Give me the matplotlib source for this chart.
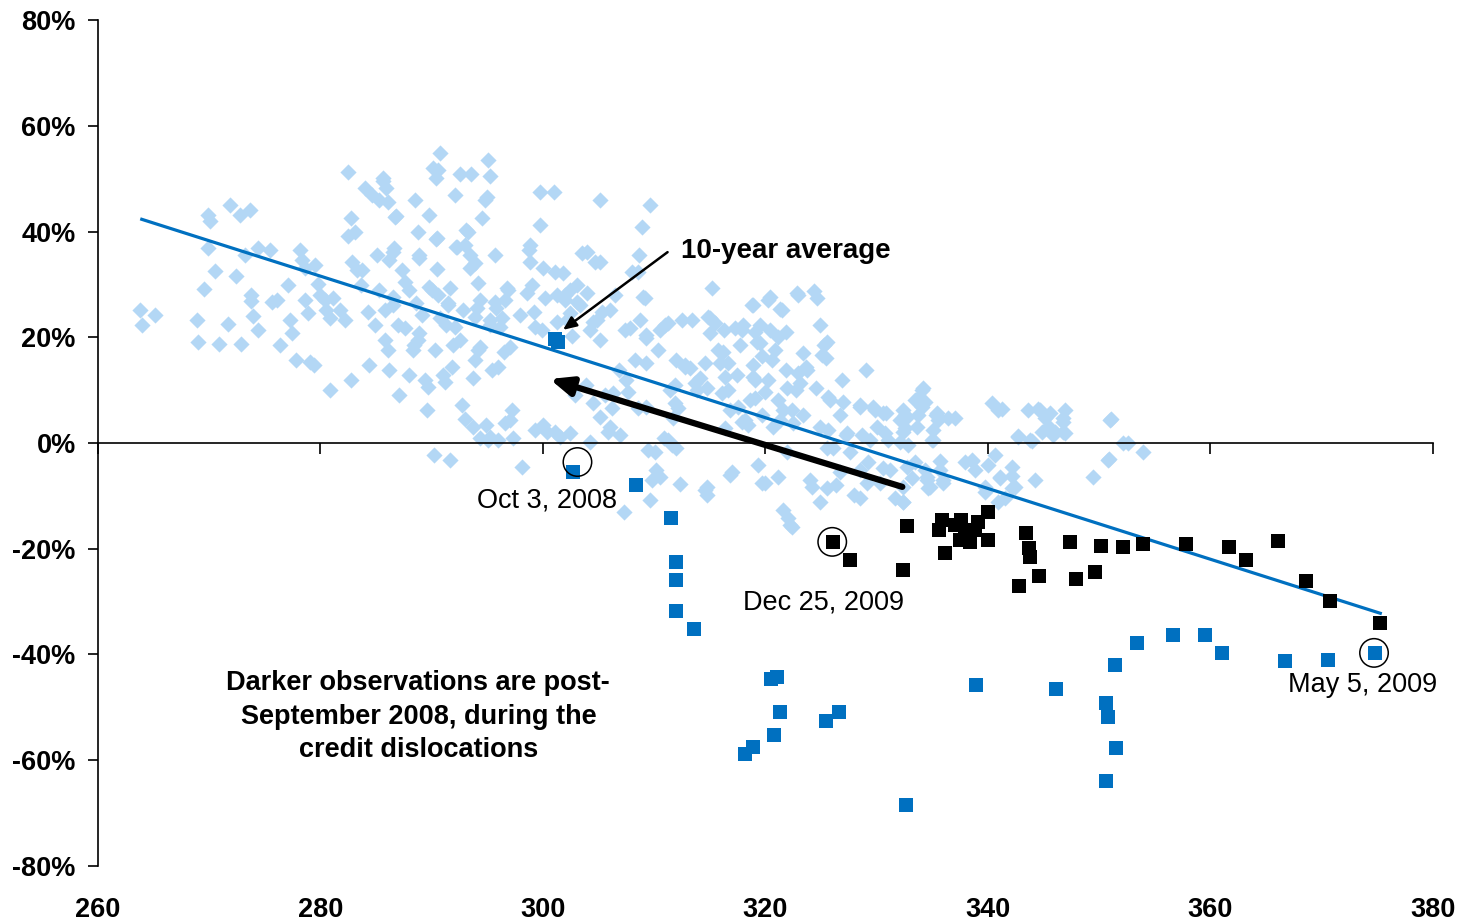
import matplotlib
matplotlib.use("Agg")
import matplotlib.pyplot as plt

plt.rcParams['font.family'] = ['Liberation Sans', 'DejaVu Sans']

# Pre-crisis weekly observations (x: level, y: % change)
light_x = [263.8, 264.0, 265.1, 268.9, 269.0, 269.5, 269.9, 270.1, 269.9, 270.5, 270.9, 271.7, 271.9, 272.8,
           272.4, 272.9, 273.7, 273.2, 273.8, 273.8, 273.9, 274.4, 274.4, 275.5, 275.6, 276.1, 276.4, 277.1,
           277.3, 277.4, 277.8, 278.2, 278.3, 278.6, 278.6, 278.9, 279.1, 279.4, 279.5, 279.8, 280.0, 280.4,
           280.5, 280.9, 280.9, 281.1, 281.8, 282.2, 282.5, 282.7, 282.5, 282.8, 283.1, 282.7, 283.3, 283.6,
           283.7, 284.0, 284.3, 284.4, 284.6, 284.9, 285.1, 285.3, 285.3, 285.6, 285.6, 285.9, 286.1, 285.8,
           285.8, 286.1, 286.2, 286.5, 286.6, 286.8, 287.0, 287.1, 287.3, 287.6, 287.6, 288.0, 288.0, 288.4,
           288.6, 288.8, 288.5, 288.9, 289.1, 289.4, 289.6, 289.8, 290.1, 290.4, 290.7, 290.0, 290.3, 290.4,
           290.5, 290.7, 291.2, 291.3, 291.5, 290.2, 291.6, 291.9, 292.1, 292.2, 292.5, 292.5, 293.0, 292.7,
           293.0, 293.1, 293.4, 293.5, 293.9, 294.2, 294.2, 294.3, 294.5, 294.8, 295.1, 295.2, 294.9, 295.1,
           295.2, 295.4, 295.7, 295.8, 296.0, 296.3, 296.5, 296.6, 296.9, 297.0, 297.2, 297.3, 297.9, 298.1,
           298.7, 298.8, 299.0, 299.2, 299.3, 299.7, 299.7, 299.9, 300.2, 300.4, 301.0, 301.1, 301.3, 301.3,
           301.5, 302.0, 302.2, 302.4, 302.6, 302.9, 303.1, 303.3, 303.5, 303.9, 304.0, 304.2, 304.7, 304.9,
           305.1, 305.1, 305.3, 305.6, 305.8, 306.2, 306.5, 306.8, 306.9, 307.3, 307.5, 307.8, 308.0, 308.3,
           308.5, 308.6, 308.7, 308.9, 309.2, 309.3, 309.6, 309.4, 309.8, 310.2, 310.3, 310.5, 310.9, 311.0,
           311.2, 311.4, 311.6, 311.9, 312.0, 312.1, 312.3, 312.5, 312.8, 313.2, 313.4, 313.8, 314.1, 314.6,
           314.7, 315.0, 315.2, 315.5, 315.7, 315.9, 316.1, 316.3, 316.6, 316.8, 317.0, 317.3, 317.4, 317.7,
           317.9, 318.2, 318.4, 318.6, 318.8, 319.1, 319.2, 319.5, 319.7, 320.0, 320.2, 320.4, 320.6, 320.9,
           321.1, 321.3, 321.5, 321.8, 322.0, 322.2, 322.4, 322.7, 322.9, 323.1, 323.4, 323.7, 324.0, 324.2,
           324.4, 324.6, 324.9, 325.1, 325.3, 325.4, 325.6, 325.8, 326.1, 326.3, 326.7, 326.9, 327.2, 327.6,
           328.0, 328.5, 328.7, 329.0, 329.2, 329.4, 329.8, 330.3, 330.6, 330.8, 331.0, 331.2, 331.6, 332.1,
           332.4, 332.5, 332.8, 333.2, 333.4, 333.7, 334.1, 334.3, 334.5, 334.8, 335.1, 335.3, 335.7, 336.0,
           336.4, 337.0, 337.9, 338.6, 338.8, 339.7, 340.0, 340.4, 340.9, 341.1, 341.5, 342.2, 342.4, 342.7,
           343.6, 343.8, 344.2, 344.7, 345.1, 345.6, 346.0, 346.7, 346.9, 346.7, 349.4, 350.8, 351.0, 352.1,
           352.6, 353.9,
           # mid-range cluster
           309.0, 320.4, 322.8, 318.9, 321.3, 314.8, 311.2, 318.0, 319.1, 321.8, 315.0, 309.3, 319.5, 321.1,
           325.5, 316.2, 319.7, 323.4, 312.8, 314.6, 316.6, 318.9, 323.6, 309.3, 316.4, 318.9, 320.2, 322.9,
           313.7, 314.7, 319.1, 320.0, 321.9, 324.5, 325.6, 327.0, 328.5, 329.7, 332.7, 311.9, 309.3, 311.7,
           317.5, 321.6, 317.9, 320.7, 322.5, 324.9, 327.3, 330.0, 330.7, 332.1, 316.4, 310.1, 312.0, 325.5,
           321.9, 319.3, 321.1, 316.8, 310.5, 314.7, 319.7, 325.5, 326.7, 328.5, 329.1, 330.6, 309.6, 324.9,
           328.5, 332.4, 321.6, 322.4,
           # right-hand cluster
           334.2, 333.7, 334.1, 332.5, 335.4, 335.5, 333.6, 335.1, 332.4, 335.0, 341.3, 344.5, 345.6, 346.7,
           345.4, 344.9, 345.8, 346.9, 342.7, 344.0, 351.1, 350.9, 333.4, 335.7, 338.6, 340.6, 342.2, 341.1,
           342.2, 339.7, 340.9, 332.4, 332.4, 334.5, 334.6, 336.0, 332.7, 334.3,
           # upper-left cluster
           290.6, 293.3, 295.0, 286.7, 288.8, 290.5, 292.3, 293.4, 293.9, 286.5, 288.9, 298.8, 304.0, 289.8,
           290.6, 291.6, 291.5, 292.8, 294.1, 295.7, 296.8, 298.6, 300.0, 301.8, 302.0, 303.1, 302.4, 304.5,
           306.0, 308.5, 286.5, 288.9, 288.3, 292.1, 293.9, 295.2, 296.1, 297.0, 294.3, 299.3, 305.1, 307.4,
           286.2, 289.7, 291.0, 291.8, 293.7, 296.0, 293.7, 296.6, 294.3, 295.2, 300.0, 301.1, 302.4, 304.5,
           306.3, 307.6, 305.1, 306.0, 304.2]
light_y = [25.1, 22.3, 24.2, 23.3, 19.1, 29.1, 43.1, 41.9, 36.9, 32.5, 18.7, 22.5, 45.0, 43.1,
           31.6, 18.7, 44.0, 35.5, 28.0, 26.8, 24.0, 21.4, 36.9, 36.5, 26.7, 27.0, 18.5, 29.9,
           23.3, 20.8, 15.7, 36.5, 34.6, 33.1, 27.0, 24.6, 15.3, 14.7, 33.6, 30.1, 28.0, 27.0,
           25.1, 23.6, 10.0, 27.4, 25.1, 23.3, 51.2, 42.5, 39.1, 34.2, 40.0, 11.9, 32.7, 29.9,
           32.7, 48.2, 24.8, 14.7, 46.9, 22.3, 35.5, 28.9, 45.9, 49.5, 50.1, 48.2, 45.6, 25.1,
           19.5, 17.6, 34.6, 26.1, 36.9, 42.9, 22.3, 9.1, 32.7, 30.4, 21.7, 12.9, 28.9, 18.5,
           26.5, 19.5, 45.9, 35.5, 24.2, 11.9, 6.2, 43.1, 52.0, 50.1, 54.8, 28.9, 17.6, 38.6,
           32.9, 23.6, 11.5, 22.3, 26.1, -2.3, -3.2, 18.5, 46.9, 37.1, 50.9, 19.5, 37.4, 7.2,
           4.5, 40.3, 33.1, 50.9, 15.7, 17.6, 30.3, 27.0, 42.5, 45.9, 53.5, 50.5, 3.4, 0.6,
           22.3, 13.8, 35.5, 25.5, 0.6, 23.6, 17.2, 27.0, 28.9, 4.3, 6.2, 0.9, 24.2, -4.5,
           36.5, 34.2, 29.9, 24.8, 2.5, 47.5, 41.2, 21.4, 27.4, 2.1, 47.5, 32.3, 28.0, 22.9,
           1.1, 27.0, 23.3, 28.9, 20.2, 9.1, 29.9, 26.1, 35.9, 11.0, 28.4, 21.4, 34.2, 23.3,
           45.9, 34.2, 24.8, 9.1, 2.1, 6.6, 28.0, 13.8, 1.5, -13.0, 11.9, 21.7, 32.3, 15.7,
           6.6, 35.5, 23.3, 40.8, 27.4, 20.4, 45.0, -1.3, -7.0, -5.1, 17.6, 21.4, 0.9, 22.3,
           0.6, 10.0, -0.4, 11.0, 15.7, 6.6, -7.8, 23.3, 14.7, 14.2, 23.3, 10.0, 12.3, -8.9,
           -9.8, 23.6, 29.3, 22.7, 17.6, 15.1, 9.5, 21.4, 10.0, 6.2, -5.5, 21.7, 12.9, 18.5,
           21.4, 4.3, 3.4, 8.1, 26.1, 11.9, 19.1, 22.3, 5.3, -7.6, 27.0, 21.4, 15.7, 17.6,
           8.1, 4.3, 25.1, 13.8, -14.2, -15.5, 6.2, 10.0, 28.0, 11.3, 5.3, 13.8, -7.0, -8.3,
           28.7, 27.4, 22.3, 16.6, 18.5, 16.1, 2.5, 8.1, -0.9, -7.9, 5.3, 11.9, 1.5, -1.7,
           -9.8, 7.2, 1.5, 13.8, -3.6, 0.6, 6.2, -7.6, 5.7, 5.7, 0.6, -5.1, -10.4, 4.3,
           6.2, 2.8, -0.4, -6.6, 8.1, 5.3, 10.0, 7.8, -7.0, -8.3, 0.6, 5.3, -5.1, -7.6,
           4.7, 4.7, -3.6, -3.2, -5.1, -9.3, -4.2, 7.6, 6.2, -6.6, -10.4, -6.2, -8.3, 1.1,
           6.2, 0.6, -7.0, 6.2, 4.7, 2.8, 2.1, 4.7, 6.2, 2.1, -6.4, -3.2, 4.3, 0.0,
           0.0, -1.7,
           27.6, 27.6, 28.4, 26.1, 25.3, 23.8, 22.7, 22.3, 21.0, 21.0, 20.8, 19.9, 18.9, 20.0,
           19.1, 17.2, 16.5, 17.0, 14.4, 15.1, 15.1, 14.8, 14.4, 15.1, 12.5, 12.5, 11.9, 13.2,
           11.3, 10.4, 8.5, 9.6, 10.4, 10.4, 8.7, 7.8, 6.8, 6.8, 4.9, 7.6, 6.8, 4.7,
           6.8, 6.2, 4.0, 3.0, 3.8, 3.0, 1.9, 3.0, 1.9, 0.2, 2.8, -1.7, -0.9, -0.9,
           -1.7, -4.2, -6.4, -6.1, -6.4, -8.3, -7.6, -8.5, -5.5, -5.1, -7.6, -4.7, -10.8, -11.2,
           -10.4, -11.2, -12.7, -15.9,
           10.4, 8.5, 6.8, 5.3, 5.7, 4.3, 3.0, 2.5, 2.1, 0.6, 6.4, 6.4, 5.7, 4.0,
           3.0, 2.1, 1.5, 1.9, 1.3, 0.4, 4.5, -3.0, -3.6, -3.4, -3.4, -2.3, -4.5, -6.4,
           -8.5, -8.3, -11.2, -8.3, -11.2, -6.4, -8.5, -7.0, -4.5, -5.1,
           51.6, 39.9, 46.5, 42.7, 39.9, 38.8, 37.1, 35.6, 34.0, 36.1, 35.0, 37.4, 36.1, 29.5,
           28.0, 29.3, 26.5, 25.2, 25.5, 26.7, 29.3, 28.4, 33.1, 32.2, 28.0, 26.7, 24.6, 22.9,
           25.2, 32.3, 27.6, 20.8, 17.6, 21.9, 23.8, 23.3, 21.9, 18.2, 18.2, 21.9, 19.5, 21.4,
           13.8, 10.6, 12.9, 14.4, 12.3, 14.4, 3.0, 3.8, 0.9, 1.1, 3.4, 2.1, 1.9, 7.6,
           9.5, 9.6, 4.9, 3.0, 0.2]

# Post-September 2008 observations
blue_x = [301.35, 301.05, 302.7, 308.4, 311.5, 312.0, 312.0, 312.0, 313.6, 320.5, 321.0, 321.3, 320.8, 318.9,
          318.2, 325.4, 326.6, 332.6, 338.9, 346.1, 350.6, 350.8, 351.4, 351.5, 350.6, 353.4, 356.6, 359.5,
          361.0, 366.7, 370.6, 374.8]
blue_y = [19.1, 19.7, -5.5, -7.9, -14.2, -22.5, -25.9, -31.8, -35.2, -44.6, -44.3, -50.9, -55.2, -57.5,
          -58.8, -52.6, -50.9, -68.5, -45.8, -46.5, -49.2, -51.8, -42.0, -57.7, -63.9, -37.8, -36.3, -36.3,
          -39.7, -41.2, -41.0, -39.7]

black_x = [326.1, 327.6, 332.4, 332.7, 335.6, 335.9, 336.1, 337.0, 337.5, 337.6, 337.9, 338.4, 338.8, 339.1,
           340.0, 340.0, 342.8, 343.4, 343.7, 343.8, 344.6, 347.4, 347.9, 349.6, 350.2, 352.1, 353.9, 357.8,
           361.7, 363.2, 366.1, 368.6, 370.7, 375.2]
black_y = [-18.7, -22.1, -24.0, -15.7, -16.4, -14.6, -20.8, -15.5, -18.3, -14.6, -16.4, -18.7, -16.4, -14.9,
           -13.0, -18.3, -27.0, -17.0, -19.9, -21.6, -25.2, -18.7, -25.7, -24.4, -19.5, -19.7, -19.1, -19.1,
           -19.7, -22.1, -18.5, -26.1, -29.9, -34.0]

trend_x = [263.8, 375.4]
trend_y = [42.4, -32.3]

# Highlighted dates
circle_x = [303.1, 326.0, 374.7]
circle_y = [-3.6, -18.7, -39.7]
date_labels = ["Oct 3, 2008", "Dec 25, 2009", "May 5, 2009"]
label_x = [300.4, 325.2, 373.7]
label_y = [-10.8, -30.1, -45.8]

x_ticks = [260, 280, 300, 320, 340, 360, 380]
y_ticks = [-80, -60, -40, -20, 0, 20, 40, 60, 80]

LIGHT = '#B3D7F5'
BLUE = '#0070C0'

fig = plt.figure(figsize=(14.6, 9.23), dpi=100)
ax = fig.add_axes([0.0671, 0.0618, 0.9144, 0.9165])
ax.set_xlim(260, 380)
ax.set_ylim(-80, 80)

ax.scatter(light_x, light_y, marker='D', s=68, color=LIGHT, linewidths=0, zorder=2)
ax.plot(trend_x, trend_y, color=BLUE, lw=2.3, solid_capstyle='butt', zorder=3)
ax.scatter(blue_x, blue_y, marker='s', s=98, color=BLUE, linewidths=0, zorder=4)
ax.scatter(black_x, black_y, marker='s', s=100, color='black', linewidths=0, zorder=4)
ax.scatter(circle_x, circle_y, marker='o', s=420, facecolors='none', edgecolors='black',
           linewidths=1.1, zorder=5)

for lx, ly, t in zip(label_x, label_y, date_labels):
    ax.text(lx, ly, t, ha='center', va='center', fontsize=19.5, color='black', zorder=6)

# Direction of move and 10-year average pointer
ax.annotate('', xy=(300.6, 12.1), xytext=(332.3, -8.3),
            arrowprops=dict(arrowstyle='-|>,head_length=1.3,head_width=0.55', lw=4.5,
                            color='black', shrinkA=0, shrinkB=0), zorder=6)
ax.annotate('', xy=(301.8, 21.4), xytext=(311.2, 36.1),
            arrowprops=dict(arrowstyle='-|>,head_length=0.8,head_width=0.35', lw=1.8,
                            color='black', shrinkA=0, shrinkB=0), zorder=6)
ax.text(312.4, 36.4, '10-year average', ha='left', va='center', fontsize=20,
        fontweight='bold', zorder=6)
ax.text(288.8, -51.8, 'Darker observations are post-\nSeptember 2008, during the\ncredit dislocations',
        ha='center', va='center', fontsize=19.5, fontweight='bold', linespacing=1.38, zorder=6)

# Axes styling: x-axis line through zero, labels along the bottom
for side in ['top', 'right']:
    ax.spines[side].set_visible(False)
ax.spines['bottom'].set_position(('data', 0))
ax.spines['bottom'].set_linewidth(1.2)
ax.spines['left'].set_linewidth(1.2)
ax.set_xticks(x_ticks)
ax.set_xticklabels([])
ax.tick_params(axis='x', direction='out', length=8, width=1.2)
ax.set_yticks(y_ticks)
ax.set_yticklabels([f'{v}%' for v in y_ticks], fontsize=19.5, fontweight='bold')
ax.tick_params(axis='y', direction='out', length=7, width=1.2, pad=9)
for xv in x_ticks:
    ax.text(xv, -0.052, str(xv), transform=ax.get_xaxis_transform(), ha='center', va='center',
            fontsize=19.5, fontweight='bold')

fig.savefig('out.png', dpi=100)
